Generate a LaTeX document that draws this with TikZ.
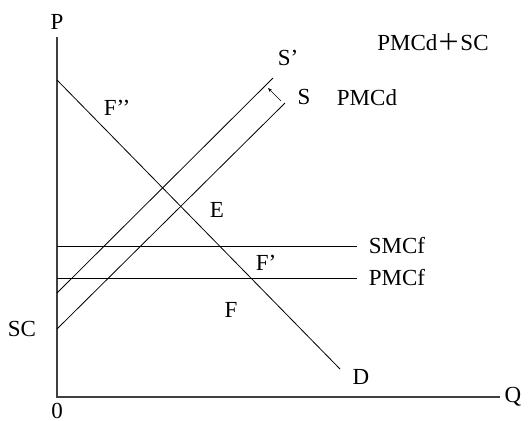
\documentclass[tikz,border=0pt]{standalone}
\usepackage{fontspec}
\setmainfont{Liberation Serif}
\newfontfamily\cjk{Noto Sans CJK SC}
\usetikzlibrary{arrows.meta}
\begin{document}
\begin{tikzpicture}[x=1pt,y=-1pt,
  lbl/.style={inner sep=0pt,font=\fontsize{23}{26}\selectfont},
  curve/.style={line width=0.8pt,black},
  axis/.style={line width=1.1pt,black!75}]
\useasboundingbox (0,0) rectangle (531,421);
% coordinates
\coordinate (O) at (57,397);
\coordinate (Ptop) at (57,37);
\coordinate (Qend) at (500,397);
\coordinate (D0) at (57,80);
\coordinate (D1) at (340,369);
\coordinate (SM0) at (57,246);
\coordinate (SM1) at (357,246);
\coordinate (PM0) at (57,278);
\coordinate (PM1) at (357,278);
\coordinate (S0) at (57,329);
\coordinate (S1) at (285,103);
\coordinate (Sp0) at (57,293);
\coordinate (Sp1) at (273,78);
\coordinate (A0) at (281,101);
\coordinate (A1) at (268,88);
% axes
\draw[axis] (Ptop) -- (O) -- (Qend);
% curves
\draw[curve] (D0) -- (D1);
\draw[curve] (SM0) -- (SM1);
\draw[curve] (PM0) -- (PM1);
\draw[curve] (S0) -- (S1);
\draw[curve] (Sp0) -- (Sp1);
\draw[line width=0.6pt,-{Stealth[length=4pt,width=3pt]}] (A0) -- (A1);
% labels
\node[lbl] (lP) at (57,22) {P};
\node[lbl] (l0) at (57,411) {0};
\node[lbl] (lQ) at (513,397) {Q};
\node[lbl] (lSC) at (22,329) {SC};
\node[lbl] (lD) at (361,377) {D};
\node[lbl] (lF) at (231,310) {F};
\node[lbl] (lFp) at (266,263) {F’};
\node[lbl] (lE) at (217,210) {E};
\node[lbl] (lFpp) at (117,108) {F’’};
\node[lbl] (lSp) at (288,58) {S’};
\node[lbl] (lS) at (304,97) {S};
\node[lbl] (lPMCd) at (367,98) {PMCd};
\node[lbl] (lPMCdSC) at (433,42) {PMCd{\cjk ＋}SC};
\node[lbl] (lSMCf) at (397,246) {SMCf};
\node[lbl] (lPMCf) at (397,278) {PMCf};
\end{tikzpicture}
\end{document}
